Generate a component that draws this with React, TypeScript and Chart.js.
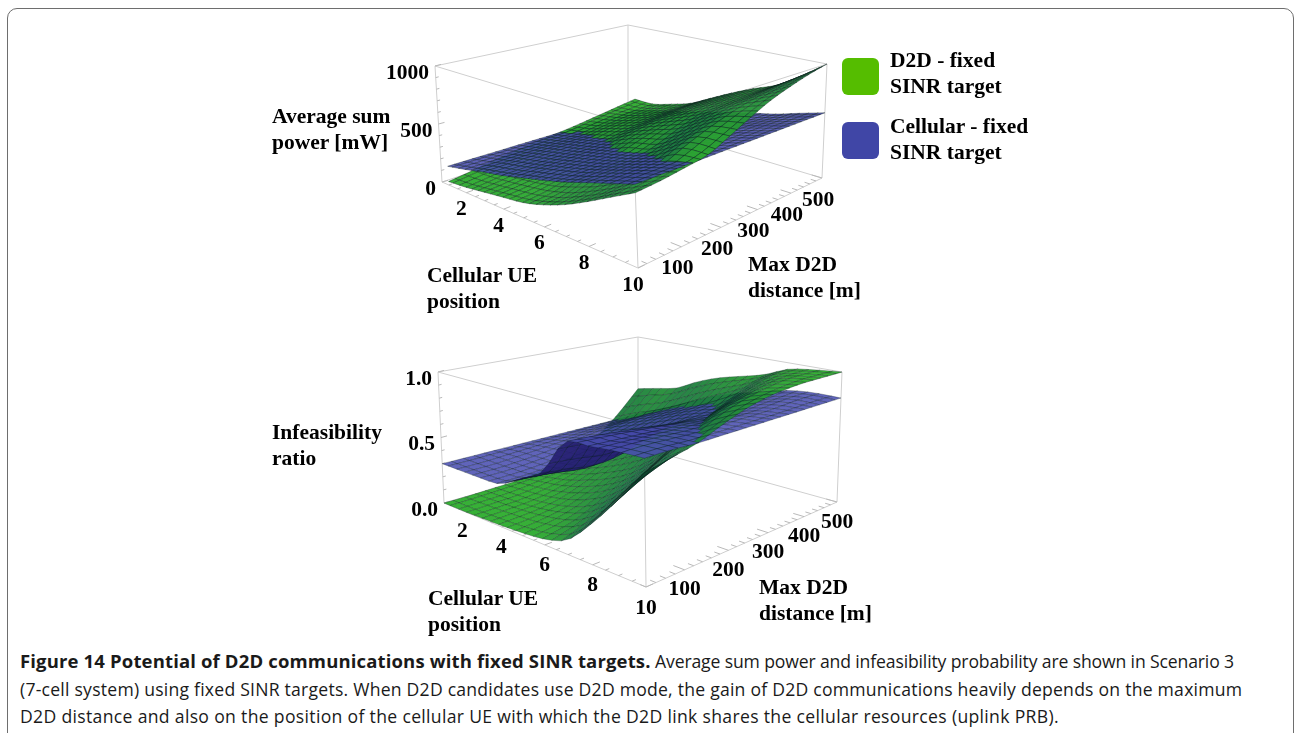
import React, { useEffect, useRef } from "react";
import { Chart, registerables } from "chart.js";

Chart.register(...registerables);

// ---- values ----
const cellularUe = [1, 2, 3, 4, 5, 6, 7, 8, 9, 10];
const maxDistance = [0, 56, 111, 167, 222, 278, 333, 389, 444, 500];
const ueTicks = [2, 4, 6, 8, 10];
const distanceTicks = [100, 200, 300, 400, 500];
const powerTicks = ["0", "500", "1000"];
const ratioTicks = ["0.0", "0.5", "1.0"];
const seriesNames = ["D2D - fixed SINR target", "Cellular - fixed SINR target"];

// rows: cellular UE position, columns: max D2D distance
const d2dPower = [
  [30, 55, 85, 110, 130, 145, 165, 190, 215, 240],
  [45, 65, 95, 120, 150, 175, 200, 220, 232, 240],
  [70, 85, 110, 145, 190, 232, 255, 270, 280, 290],
  [95, 110, 140, 185, 240, 285, 315, 335, 345, 350],
  [120, 140, 185, 250, 325, 375, 410, 430, 445, 450],
  [170, 190, 260, 335, 395, 445, 490, 520, 540, 550],
  [240, 265, 320, 385, 440, 510, 570, 610, 630, 640],
  [330, 355, 410, 480, 550, 620, 675, 700, 715, 720],
  [430, 460, 510, 590, 660, 720, 770, 805, 835, 850],
  [530, 545, 570, 600, 680, 770, 850, 910, 960, 1000],
];
const cellularPower = [
  [160, 157, 153, 150, 146, 142, 138, 134, 130, 127],
  [195, 192, 190, 187, 184, 181, 178, 175, 172, 170],
  [235, 233, 232, 230, 228, 226, 224, 222, 220, 218],
  [270, 270, 270, 270, 270, 270, 268, 268, 268, 266],
  [315, 315, 315, 315, 315, 315, 315, 315, 315, 315],
  [360, 360, 360, 360, 360, 360, 360, 362, 362, 362],
  [410, 410, 410, 410, 410, 412, 412, 412, 412, 410],
  [470, 470, 470, 470, 470, 470, 470, 468, 462, 455],
  [530, 530, 530, 530, 528, 526, 524, 522, 518, 515],
  [590, 588, 586, 584, 582, 580, 578, 576, 574, 572],
];
const d2dRatio = [
  [0, 0, 0.005, 0.01, 0.03, 0.06, 0.12, 0.22, 0.36, 0.53],
  [0, 0.005, 0.01, 0.03, 0.06, 0.11, 0.19, 0.3, 0.43, 0.57],
  [0.005, 0.01, 0.02, 0.05, 0.1, 0.17, 0.26, 0.37, 0.49, 0.61],
  [0.01, 0.02, 0.04, 0.09, 0.16, 0.24, 0.34, 0.44, 0.57, 0.7],
  [0.02, 0.04, 0.08, 0.15, 0.23, 0.33, 0.43, 0.53, 0.66, 0.77],
  [0.04, 0.08, 0.15, 0.24, 0.33, 0.43, 0.53, 0.63, 0.74, 0.82],
  [0.1, 0.18, 0.28, 0.38, 0.48, 0.58, 0.66, 0.74, 0.82, 0.87],
  [0.27, 0.38, 0.48, 0.58, 0.68, 0.76, 0.82, 0.88, 0.93, 0.95],
  [0.48, 0.58, 0.68, 0.76, 0.84, 0.9, 0.94, 0.97, 0.98, 0.98],
  [0.72, 0.76, 0.8, 0.87, 0.93, 0.97, 0.99, 1, 1, 1],
];
const cellularRatio = [
  [0.3, 0.3, 0.3, 0.3, 0.3, 0.3, 0.3, 0.3, 0.3, 0.3],
  [0.3, 0.3, 0.31, 0.32, 0.33, 0.34, 0.35, 0.36, 0.37, 0.38],
  [0.3, 0.3, 0.31, 0.33, 0.36, 0.39, 0.42, 0.44, 0.45, 0.46],
  [0.31, 0.31, 0.32, 0.34, 0.38, 0.44, 0.48, 0.51, 0.53, 0.54],
  [0.4, 0.38, 0.36, 0.38, 0.43, 0.5, 0.55, 0.58, 0.6, 0.62],
  [0.5, 0.48, 0.45, 0.46, 0.51, 0.57, 0.62, 0.65, 0.67, 0.68],
  [0.755, 0.74, 0.72, 0.7, 0.68, 0.67, 0.68, 0.7, 0.71, 0.73],
  [0.78, 0.77, 0.76, 0.75, 0.74, 0.73, 0.73, 0.75, 0.76, 0.78],
  [0.8, 0.8, 0.79, 0.78, 0.78, 0.78, 0.78, 0.79, 0.8, 0.8],
  [0.81, 0.81, 0.8, 0.8, 0.8, 0.8, 0.8, 0.8, 0.8, 0.8],
];

const captionBold = "Figure 14 Potential of D2D communications with fixed SINR targets.";
const captionLines = [
  " Average sum power and infeasibility probability are shown in Scenario 3",
  "(7-cell system) using fixed SINR targets. When D2D candidates use D2D mode, the gain of D2D communications heavily depends on the maximum",
  "D2D distance and also on the position of the cellular UE with which the D2D link shares the cellular resources (uplink PRB).",
];

// ---- view of each 3D box: page position of the 8 box corners ----
type P = [number, number];
const viewTop = {
  floor: [[442, 182], [638, 268], [822, 178], [628, 120]] as P[],
  roof: [[435, 66], [633, 126], [827, 64], [628, 25]] as P[],
  top: 0, height: 330, zMax: 1000, meshCells: 27, ueStart: 0.6, tickDistStart: 0,
  ueOffset: [-5, 17] as P, distOffset: [-4, 22] as P, zOffset: [-6, 7] as P,
  meshColor: "rgba(8,25,25,0.6)", meshWidth: 0.6,
};
const viewBottom = {
  floor: [[444, 503], [646, 587], [837, 502], [638, 447]] as P[],
  roof: [[438, 372], [644, 428], [842, 372], [638, 337]] as P[],
  top: 330, height: 310, zMax: 1, meshCells: 22, ueStart: 1, tickDistStart: 20,
  ueOffset: [0, 21] as P, distOffset: [0, 20] as P, zOffset: [-6, 7] as P,
  meshColor: "rgba(8,25,25,0.5)", meshWidth: 0.55,
};
type View = typeof viewTop;

// Maps the unit square onto a quadrilateral (perspective of a box face).
function homography(q: P[]) {
  const [[x0, y0], [x1, y1], [x2, y2], [x3, y3]] = q;
  const dx1 = x1 - x2, dx2 = x3 - x2, sx = x0 - x1 + x2 - x3;
  const dy1 = y1 - y2, dy2 = y3 - y2, sy = y0 - y1 + y2 - y3;
  const det = dx1 * dy2 - dx2 * dy1;
  const g = (sx * dy2 - dx2 * sy) / det, h = (dx1 * sy - sx * dy1) / det;
  const a = x1 - x0 + g * x1, b = x3 - x0 + h * x3, d = y1 - y0 + g * y1, e = y3 - y0 + h * y3;
  return (s: number, t: number): P => {
    const k = g * s + h * t + 1;
    return [(a * s + b * t + x0) / k, (d * s + e * t + y0) / k];
  };
}

function cr(p0: number, p1: number, p2: number, p3: number, t: number) {
  return 0.5 * (2 * p1 + (p2 - p0) * t + (2 * p0 - 5 * p1 + 4 * p2 - p3) * t * t + (3 * p1 - p0 - 3 * p2 + p3) * t * t * t);
}
function sampleLine(a: number[], f: number) {
  const n = a.length;
  const i = Math.min(Math.floor(f), n - 2);
  const t = f - i;
  return cr(a[Math.max(i - 1, 0)], a[i], a[i + 1], a[Math.min(i + 2, n - 1)], t);
}

const ueToS = (view: View, u: number) => (u - view.ueStart) / (10 - view.ueStart);
const tickToT = (view: View, d: number) => (d - view.tickDistStart) / (500 - view.tickDistStart);

// The mesh of a surface: the read values are the knots, the sub-cells only give the drawn mesh its density.
function surfaceQuads(grid: number[][], view: View, rgbBright: number[], rgbDark: number[], rgbBack: number[], alpha: number, name: string) {
  const low = homography(view.floor), high = homography(view.roof);
  const project = (s: number, t: number, w: number): P => {
    const a = low(s, t), b = high(s, t);
    return [a[0] + (b[0] - a[0]) * w, a[1] + (b[1] - a[1]) * w];
  };
  const n = view.meshCells;
  const rowAt = (i: number) => (i * (cellularUe.length - 1)) / n;
  const colAt = (j: number) => (j * (maxDistance.length - 1)) / n;
  const val: number[][] = [];
  for (let i = 0; i <= n; i++) {
    const row: number[] = [];
    for (let j = 0; j <= n; j++) {
      const column = grid.map((r) => sampleLine(r, colAt(j)));
      row.push(Math.max(0, Math.min(1, sampleLine(column, rowAt(i)) / view.zMax)));
    }
    val.push(row);
  }
  const sAt = (i: number) => ueToS(view, sampleLine(cellularUe, rowAt(i)));
  const tAt = (j: number) => sampleLine(maxDistance, colAt(j)) / 500;
  const quads: any[] = [];
  for (let i = 0; i < n; i++) {
    for (let j = 0; j < n; j++) {
      const s0 = sAt(i), s1 = sAt(i + 1), t0 = tAt(j), t1 = tAt(j + 1);
      const w00 = val[i][j], w01 = val[i][j + 1], w10 = val[i + 1][j], w11 = val[i + 1][j + 1];
      const pts = [project(s0, t0, w00), project(s1, t0, w10), project(s1, t1, w11), project(s0, t1, w01)];
      const cross = (pts[2][0] - pts[0][0]) * (pts[3][1] - pts[1][1]) - (pts[2][1] - pts[0][1]) * (pts[3][0] - pts[1][0]);
      const du = ((w10 + w11) - (w00 + w01)) / 2 / (s1 - s0) * 0.6;
      const dv = ((w01 + w11) - (w00 + w10)) / 2 / (t1 - t0) * 0.6;
      const len = Math.hypot(du, dv, 1);
      const light = (-du * 0.35 - dv * 0.05 + 0.93) / len;
      const f = Math.max(0, Math.min(1, (light - 0.45) / 0.45));
      const back = cross > 0;
      const c = back ? rgbBack : rgbDark.map((v, k) => Math.round(v + (rgbBright[k] - v) * f));
      const fill = `rgba(${c[0]},${c[1]},${c[2]},${alpha})`;
      const wm = (w00 + w01 + w10 + w11) / 4;
      const depth = 0.64 * ((s0 + s1) / 2 + 1 - (t0 + t1) / 2) + 0.27 * wm;
      quads.push({
        depth,
        set: {
          label: name,
          showLine: true,
          fill: "shape",
          tension: 0,
          backgroundColor: fill,
          borderColor: view.meshColor,
          borderWidth: view.meshWidth,
          pointRadius: 0,
          data: [...pts, pts[0]].map(([x, y]) => ({ x, y })),
        },
      });
    }
  }
  return quads;
}

function boxSets(view: View) {
  const low = homography(view.floor), high = homography(view.roof);
  const f = view.floor, r = view.roof;
  const seg: P[][] = [
    [f[0], f[1]], [f[1], f[2]], [f[2], f[3]], [f[3], f[0]],
    [r[0], r[1]], [r[1], r[2]], [r[2], r[3]], [r[3], r[0]],
    [f[0], r[0]], [f[1], r[1]], [f[2], r[2]], [f[3], r[3]],
  ];
  const flat: any[] = [];
  seg.forEach(([a, b]) => { flat.push({ x: a[0], y: a[1] }, { x: b[0], y: b[1] }, { x: NaN, y: NaN }); });
  const ticks: any[] = [];
  const push = (a: P, b: P) => ticks.push({ x: a[0], y: a[1] }, { x: b[0], y: b[1] }, { x: NaN, y: NaN });
  for (let u = 1; u <= 10.001; u += 0.5) {
    const s = ueToS(view, u);
    push(low(s, 0), low(s, Number.isInteger(u / 2) ? 0.03 : 0.016));
  }
  for (let d = 20; d <= 500; d += 20) {
    const t = tickToT(view, d);
    push(low(1, t), low(d % 100 === 0 ? 0.955 : 0.977, t));
  }
  for (let k = 0; k <= 10; k++) {
    const w = k / 10;
    const a = low(0, 0), b = high(0, 0);
    const p: P = [a[0] + (b[0] - a[0]) * w, a[1] + (b[1] - a[1]) * w];
    const major = k % 5 === 0;
    push(p, [p[0] + (major ? 6 : 3), p[1] - (major ? 1.6 : 0.8)]);
  }
  const line = (data: any[], color: string) => ({ label: "box", showLine: true, fill: false, borderColor: color, borderWidth: 1, pointRadius: 0, tension: 0, spanGaps: false, data });
  return [line(ticks, "#b9b9b9"), line(flat, "#cfcfcf")];
}

const labelFont = "bold 21.5px 'Liberation Serif'";

function tickPlugin(view: View, zLabels: string[]) {
  const low = homography(view.floor), high = homography(view.roof);
  return {
    id: "boxTickLabels",
    afterDatasetsDraw(chart: any) {
      const { ctx, scales } = chart;
      const px = (p: P, off: P): P => [scales.x.getPixelForValue(p[0]) + off[0], scales.y.getPixelForValue(p[1]) + off[1]];
      ctx.save();
      ctx.fillStyle = "#000";
      ctx.font = labelFont;
      ctx.textBaseline = "middle";
      ctx.textAlign = "center";
      ueTicks.forEach((u) => {
        const [x, y] = px(low(ueToS(view, u), 0), view.ueOffset);
        ctx.fillText(String(u), x, y);
      });
      distanceTicks.forEach((d) => {
        const [x, y] = px(low(1, tickToT(view, d)), view.distOffset);
        ctx.fillText(String(d), x, y);
      });
      ctx.textAlign = "right";
      zLabels.forEach((label, i) => {
        const w = i / (zLabels.length - 1);
        const a = low(0, 0), b = high(0, 0);
        const [x, y] = px([a[0] + (b[0] - a[0]) * w, a[1] + (b[1] - a[1]) * w], view.zOffset);
        ctx.fillText(label, x, y);
      });
      ctx.restore();
    },
  };
}

const GREEN = { bright: [44, 172, 44], dark: [24, 112, 66], back: [14, 70, 44] };
const BLUE = { bright: [74, 78, 176], dark: [58, 62, 150], back: [36, 30, 112] };

function makeChart(canvas: HTMLCanvasElement, view: View, green: number[][], blue: number[][], zLabels: string[]) {
  const quads = [
    ...surfaceQuads(green, view, GREEN.bright, GREEN.dark, GREEN.back, 0.95, seriesNames[0]),
    ...surfaceQuads(blue, view, BLUE.bright, BLUE.dark, BLUE.back, 0.88, seriesNames[1]),
  ].sort((a, b) => b.depth - a.depth);
  return new Chart(canvas, {
    type: "scatter",
    data: { datasets: [...quads.map((q) => q.set), ...boxSets(view)] },
    options: {
      animation: false,
      responsive: false,
      devicePixelRatio: 1,
      events: [],
      layout: { padding: 0 },
      plugins: { legend: { display: false }, tooltip: { enabled: false }, filler: { propagate: false } },
      scales: {
        x: { type: "linear", display: false, min: 0, max: 1294 },
        y: { type: "linear", display: false, min: view.top, max: view.top + view.height, reverse: true },
      },
    } as any,
    plugins: [tickPlugin(view, zLabels)],
  } as any);
}

const serif: React.CSSProperties = { position: "absolute", fontFamily: "'Liberation Serif'", fontWeight: 700, fontSize: 21.5, lineHeight: "26px", whiteSpace: "nowrap", color: "#000" };

function Title({ x, y, lines }: { x: number; y: number; lines: string[] }) {
  return <div style={{ ...serif, left: x, top: y }}>{lines.map((l) => <div key={l}>{l}</div>)}</div>;
}

export default function App() {
  const a = useRef<HTMLCanvasElement>(null);
  const b = useRef<HTMLCanvasElement>(null);
  useEffect(() => {
    const c1 = makeChart(a.current!, viewTop, d2dPower, cellularPower, powerTicks);
    const c2 = makeChart(b.current!, viewBottom, d2dRatio, cellularRatio, ratioTicks);
    return () => { c1.destroy(); c2.destroy(); };
  }, []);
  const cap: React.CSSProperties = { position: "absolute", left: 20, whiteSpace: "nowrap", fontFamily: "'Open Sans'", fontSize: 17.6, lineHeight: "28px", color: "#1a1a1a" };
  return (
    <div style={{ position: "relative", width: 1294, height: 733, overflow: "hidden", background: "#fff" }}>
      <style>{"html,body{margin:0;padding:0;overflow:hidden;background:#fff}"}</style>
      <div style={{ position: "absolute", left: 7, top: 8, width: 1285, height: 800, border: "1.5px solid #6e6e6e", borderRadius: 10 }} />
      <canvas ref={a} width={1294} height={viewTop.height} style={{ position: "absolute", left: 0, top: viewTop.top, display: "block" }} />
      <canvas ref={b} width={1294} height={viewBottom.height} style={{ position: "absolute", left: 0, top: viewBottom.top, display: "block" }} />
      <Title x={272} y={103} lines={["Average sum", "power [mW]"]} />
      <Title x={427} y={262} lines={["Cellular UE", "position"]} />
      <Title x={748} y={251} lines={["Max D2D", "distance [m]"]} />
      <Title x={272} y={419} lines={["Infeasibility", "ratio"]} />
      <Title x={428} y={585} lines={["Cellular UE", "position"]} />
      <Title x={759} y={574} lines={["Max D2D", "distance [m]"]} />
      <div style={{ position: "absolute", left: 842, top: 58, width: 37, height: 37, borderRadius: 6, background: "#55bd00" }} />
      <div style={{ position: "absolute", left: 842, top: 122, width: 37, height: 37, borderRadius: 6, background: "#4046a6" }} />
      <Title x={890} y={47} lines={["D2D - fixed", "SINR target"]} />
      <Title x={890} y={113} lines={["Cellular - fixed", "SINR target"]} />
      <div style={{ ...cap, top: 647, letterSpacing: -0.14 }}><b style={{ fontSize: 18.5, letterSpacing: 0.15 }}>{captionBold}</b>{captionLines[0]}</div>
      <div style={{ ...cap, top: 675, letterSpacing: 0.23 }}>{captionLines[1]}</div>
      <div style={{ ...cap, top: 702, letterSpacing: 0.32 }}>{captionLines[2]}</div>
    </div>
  );
}
